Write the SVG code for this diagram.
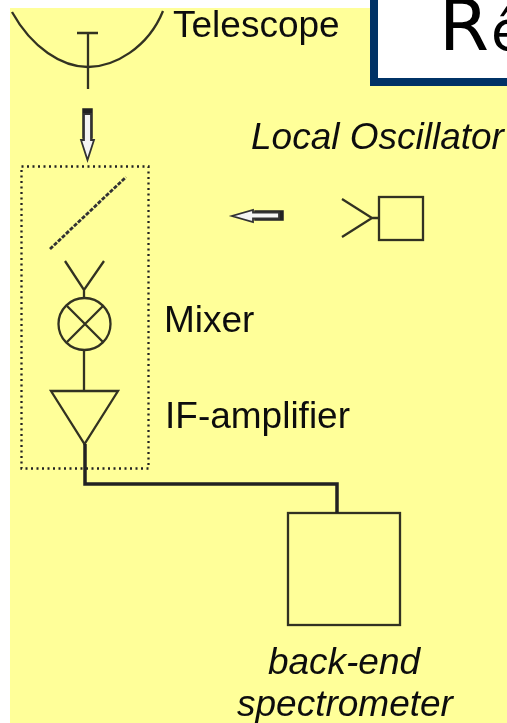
<svg xmlns="http://www.w3.org/2000/svg" width="507" height="723" viewBox="0 0 507 723">
<defs><filter id="soft" x="0" y="0" width="100%" height="100%" filterUnits="userSpaceOnUse" primitiveUnits="userSpaceOnUse"><feGaussianBlur stdDeviation="0.5"/></filter></defs>
<style>
.l{fill:none;stroke:#333322;stroke-width:2.300}
.t{font-family:"Liberation Sans",Arial,sans-serif;font-size:37px;fill:#111}
.i{font-style:italic}
.a{fill:#f4f4f4;stroke:#333;stroke-width:1.800}
.s{fill:#222;stroke:#222;stroke-width:1.500}
</style>
<rect width="507" height="723" fill="#fff"/>
<g filter="url(#soft)">
<rect x="10" y="8" width="497" height="715" fill="#ffff99"/>
<g id="title"><rect x="374" y="-10" width="150" height="92" fill="#fff" stroke="#003366" stroke-width="8"/>
<text x="439" y="50" font-family="'DejaVu Sans',sans-serif" font-size="72" fill="#000">R<tspan font-size="55" dx="2">ê</tspan></text></g>
<g id="telescope"><path class="l" d="M12 12C32 48 62 67 88 67C114 67 148 48 163 11"/><path class="l" d="M77 33H98M88 33V89"/>
<text class="t" x="173" y="37">Telescope</text></g>
<g id="local-oscillator"><text class="t i" x="251" y="149">Local Oscillator</text><rect class="l" x="379" y="197" width="44" height="43"/><path class="l" d="M342 199L372 218L342 237M372 218H379"/></g>
<g id="box"><rect x="21.500" y="166.500" width="127" height="302" fill="none" stroke="#222" stroke-width="2.300" stroke-dasharray="2 3.500"/>
<path d="M50 249L126 177" fill="none" stroke="#333" stroke-width="2.800" stroke-dasharray="4 1.500"/></g>
<g id="mixer"><path class="l" d="M65 261L84 290L104 261M84 290V298"/><circle class="l" cx="84.500" cy="324" r="26"/><path class="l" d="M67 306L103 342M103 306L67 342"/>
<text class="t" x="164" y="332">Mixer</text></g>
<g id="if-amplifier"><path class="l" d="M84 350V391"/><path class="l" d="M51 391H118L84.500 444Z"/><text class="t" x="165" y="428">IF-amplifier</text></g>
<g id="spectrometer"><rect class="l" x="288" y="513" width="112" height="112"/><text class="t i" x="344" y="674" text-anchor="middle">back-end</text><text class="t i" x="345" y="716" text-anchor="middle">spectrometer</text></g>
<g id="connectors"><path d="M85 444V484H337V513" fill="none" stroke="#222" stroke-width="3.500"/>
<path class="s" d="M83 109H92V138H83Z"/><path class="a" d="M84 114H91V140H94L87.500 160L81 140H84Z"/>
<path class="s" d="M283 211V220H255V211Z"/><path class="a" d="M279 212.500V218.500H253V222L232 216L253 210V212.500Z"/></g>
</g>
</svg>
